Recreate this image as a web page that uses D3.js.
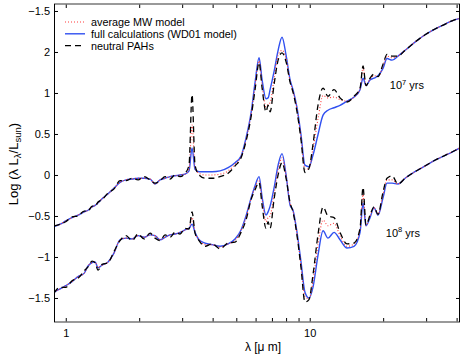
<!DOCTYPE html>
<html><head><meta charset="utf-8">
<script src="https://cdn.jsdelivr.net/npm/d3@7"></script>
<style>
html,body{margin:0;padding:0;background:#fff;}
svg{display:block;font-family:"Liberation Sans",Arial,Helvetica,sans-serif;}
</style></head>
<body>
<svg id="chart" width="463" height="356"></svg>
<script>
// wavelength grid (micron)
const lam = [0.895,0.948,1.0,1.061,1.123,1.189,1.234,1.282,1.319,1.356,
 1.409,1.491,1.578,1.669,1.767,1.870,1.979,2.094,2.216,2.323,
 2.435,2.553,2.676,2.805,2.941,3.083,3.201,3.293,3.388,3.519,
 3.723,3.977,4.29,4.63,4.94,5.23,5.48,5.75,5.97,6.20,
 6.38,6.62,6.75,6.88,7.14,7.42,7.70,8.00,8.31,8.54,
 8.87,9.21,9.56,9.93,10.31,10.81,11.34,11.88,12.58,13.31,
 14.22,15.19,16.08,16.54,17.01,17.67,18.34,19.05,19.97,20.74,
 21.75,23.0,24.6,27.0,29.7,32.6,35.9,38.3,41.3];

// 10^7 yrs
const full7 = [-0.63,-0.60,-0.56,-0.52,-0.49,-0.45,-0.43,-0.39,-0.37,-0.34,
 -0.29,-0.23,-0.16,-0.09,-0.06,-0.05,-0.04,-0.04,-0.05,-0.11,
 -0.06,-0.04,-0.02,-0.01,0.00,0.01,0.05,0.33,0.07,0.04,
 0.04,0.04,0.05,0.09,0.15,0.23,0.45,0.76,1.13,1.43,
 1.16,0.93,0.94,1.04,1.26,1.52,1.68,1.46,1.16,1.04,
 0.82,0.49,0.12,0.10,0.24,0.49,0.73,0.79,0.82,0.85,
 0.90,0.95,1.04,1.18,1.09,1.16,1.18,1.21,1.30,1.42,
 1.40,1.45,1.52,1.62,1.71,1.78,1.84,1.88,1.91];
const mw7 = [-0.63,-0.60,-0.56,-0.52,-0.49,-0.45,-0.43,-0.39,-0.37,-0.34,
 -0.29,-0.23,-0.16,-0.09,-0.06,-0.05,-0.04,-0.04,-0.05,-0.11,
 -0.06,-0.04,-0.02,-0.01,0.00,0.01,0.07,0.61,0.09,0.02,
 0.00,0.00,0.01,0.05,0.13,0.22,0.43,0.74,1.09,1.39,
 1.10,0.83,0.86,0.88,1.17,1.46,1.52,1.42,1.14,1.02,
 0.80,0.46,0.07,0.08,0.32,0.68,0.97,0.94,0.95,0.92,
 0.90,0.95,1.05,1.31,1.09,1.17,1.21,1.20,1.33,1.45,
 1.43,1.45,1.52,1.62,1.71,1.78,1.84,1.88,1.91];
const neutral7 = [-0.62,-0.60,-0.57,-0.51,-0.50,-0.44,-0.44,-0.38,-0.38,-0.33,
 -0.30,-0.22,-0.17,-0.07,-0.07,-0.04,-0.06,-0.02,-0.06,-0.10,
 -0.07,-0.02,-0.05,0.00,-0.02,0.02,0.12,0.98,0.12,0.00,
 -0.04,-0.04,-0.02,0.02,0.11,0.21,0.41,0.71,1.04,1.37,
 1.06,0.77,0.85,0.77,1.10,1.40,1.49,1.38,1.13,1.01,
 0.77,0.43,0.03,0.08,0.37,0.85,1.06,0.96,1.04,0.94,
 0.89,0.96,1.06,1.33,1.09,1.18,1.23,1.20,1.35,1.47,
 1.45,1.45,1.52,1.62,1.71,1.78,1.84,1.88,1.91];

// 10^8 yrs
const full8 = [-1.43,-1.39,-1.35,-1.30,-1.24,-1.20,-1.11,-1.07,-1.06,-1.13,
 -1.10,-1.06,-0.95,-0.79,-0.77,-0.78,-0.74,-0.76,-0.73,-0.74,
 -0.79,-0.76,-0.73,-0.72,-0.70,-0.67,-0.65,-0.60,-0.70,-0.79,
 -0.83,-0.85,-0.87,-0.84,-0.78,-0.67,-0.50,-0.28,-0.13,-0.02,
 -0.27,-0.49,-0.45,-0.38,-0.16,0.12,0.26,0.00,-0.37,-0.43,
 -0.70,-1.06,-1.43,-1.50,-1.37,-0.98,-0.68,-0.77,-0.70,-0.79,
 -0.89,-0.87,-0.70,-0.34,-0.62,-0.52,-0.40,-0.49,-0.28,-0.10,
 -0.10,-0.11,-0.04,0.04,0.11,0.18,0.24,0.28,0.33];
const mw8 = [-1.43,-1.39,-1.35,-1.30,-1.24,-1.20,-1.11,-1.07,-1.06,-1.13,
 -1.10,-1.06,-0.95,-0.79,-0.77,-0.78,-0.74,-0.76,-0.73,-0.74,
 -0.79,-0.76,-0.73,-0.72,-0.70,-0.67,-0.65,-0.52,-0.70,-0.79,
 -0.85,-0.85,-0.88,-0.84,-0.80,-0.68,-0.52,-0.29,-0.15,-0.06,
 -0.30,-0.57,-0.52,-0.50,-0.23,0.06,0.21,-0.01,-0.35,-0.44,
 -0.72,-1.10,-1.48,-1.51,-1.30,-0.85,-0.55,-0.62,-0.59,-0.74,
 -0.87,-0.84,-0.67,-0.24,-0.62,-0.50,-0.40,-0.48,-0.24,-0.06,
 -0.06,-0.11,-0.04,0.04,0.11,0.18,0.24,0.28,0.33];
const neutral8 = [-1.44,-1.37,-1.37,-1.29,-1.26,-1.17,-1.12,-1.05,-1.07,-1.16,
 -1.09,-1.07,-0.93,-0.80,-0.74,-0.80,-0.72,-0.78,-0.71,-0.77,
 -0.80,-0.73,-0.76,-0.70,-0.72,-0.65,-0.66,-0.45,-0.71,-0.80,
 -0.87,-0.84,-0.90,-0.83,-0.82,-0.70,-0.55,-0.30,-0.18,-0.09,
 -0.37,-0.65,-0.57,-0.65,-0.30,0.00,0.15,-0.04,-0.34,-0.45,
 -0.74,-1.13,-1.55,-1.52,-1.22,-0.73,-0.39,-0.50,-0.52,-0.70,
 -0.84,-0.83,-0.65,-0.15,-0.61,-0.49,-0.39,-0.48,-0.21,-0.04,
 -0.01,-0.11,-0.04,0.04,0.11,0.18,0.24,0.28,0.33];

// ticks (labels reproduced exactly as printed in the original)
const yTickValues = [2, 1.5, 1, 0.5, 0, -0.5, -1, -1.5];
const yTickLabels = ["\u22121.5", "2", "1", "0.5", "0", "\u22120.5", "\u22121", "\u22121.5"];
const xTickValues = [1,2,3,4,5,6,7,8,9,10,20,30,40];
const xTickLabels = {1: "1", 10: "10"};

const legendLabels = ["average MW model", "full calculations (WD01 model)", "neutral PAHs"];
const ageLabels = ["7", "8"];
const ageLabelPos = [[21.3, 1.043], [20.5, -0.756]];

const margin = {left: 54, top: 4, right: 3, bottom: 34};
const W = 463, H = 356;
const iw = W - margin.left - margin.right, ih = H - margin.top - margin.bottom;

const svg = d3.select("#chart");
const g = svg.append("g").attr("transform", `translate(${margin.left},${margin.top})`);

const x = d3.scaleLog().domain([0.895, 41.3]).range([0, iw]);
const y = d3.scaleLinear().domain([-1.793, 2.085]).range([ih, 0]);

const styles = [
  {color: "#3050f0", width: 1.4, dash: null},
  {color: "#ff3b3b", width: 1.1, dash: "1,2"},
  {color: "#000000", width: 1.3, dash: "6,4"}
];

const line = d3.line().x(d => x(d[0])).y(d => y(d[1])).curve(d3.curveMonotoneX);
g.append("clipPath").attr("id", "clip").append("rect").attr("width", iw).attr("height", ih);
const plot = g.append("g").attr("clip-path", "url(#clip)");

const sets = [[full7, mw7, neutral7], [full8, mw8, neutral8]];
[0,1,2].forEach(si => {
  sets.forEach(set => {
    const pts = lam.map((l, i) => [l, set[si][i]]);
    plot.append("path").attr("d", line(pts)).attr("fill", "none")
      .attr("stroke", styles[si].color).attr("stroke-width", styles[si].width)
      .attr("stroke-dasharray", styles[si].dash)
      .attr("stroke-linejoin", "round");
  });
});

// axes
const fs = "11px";
const yAxis = d3.axisLeft(y).tickValues(yTickValues).tickFormat((d, i) => yTickLabels[i])
  .tickSizeInner(-4).tickSizeOuter(0).tickPadding(4);
const ya = g.append("g").call(yAxis);
ya.select(".domain").remove();
ya.selectAll("text").style("font-size", fs).attr("fill", "#000");
const yAxisR = d3.axisRight(y).tickValues(yTickValues).tickFormat("").tickSizeInner(-4).tickSizeOuter(0);
const yr = g.append("g").attr("transform", `translate(${iw},0)`).call(yAxisR);
yr.select(".domain").remove();

const xAxis = d3.axisBottom(x).tickValues(xTickValues).tickFormat(d => xTickLabels[d] || "")
  .tickSizeInner(-4).tickSizeOuter(0).tickPadding(7);
const xa = g.append("g").attr("transform", `translate(0,${ih})`).call(xAxis);
xa.select(".domain").remove();
xa.selectAll("text").style("font-size", fs).attr("fill", "#000");
const xAxisT = d3.axisTop(x).tickValues(xTickValues).tickFormat("").tickSizeInner(-4).tickSizeOuter(0);
const xt = g.append("g").call(xAxisT);
xt.select(".domain").remove();
g.selectAll(".tick line").attr("stroke", "#000");

// frame
g.append("line").attr("x1", 0).attr("x2", iw).attr("y1", ih).attr("y2", ih).attr("stroke", "#777").attr("stroke-width", 1.6);
g.append("line").attr("x1", 0).attr("x2", iw).attr("y1", 0).attr("y2", 0).attr("stroke", "#777").attr("stroke-width", 1.6);
g.append("line").attr("x1", 0.5).attr("x2", 0.5).attr("y1", 0).attr("y2", ih).attr("stroke", "#000").attr("stroke-width", 1);
g.append("line").attr("x1", iw - 0.5).attr("x2", iw - 0.5).attr("y1", 0).attr("y2", ih).attr("stroke", "#000").attr("stroke-width", 1);

// legend
const leg = g.append("g").attr("transform", "translate(11,18)");
[1,0,2].forEach((si, k) => {
  const yy = k * 11.8;
  leg.append("line").attr("x1", 0).attr("x2", 20).attr("y1", yy).attr("y2", yy)
    .attr("stroke", styles[si].color).attr("stroke-width", styles[si].width)
    .attr("stroke-dasharray", styles[si].dash);
  leg.append("text").attr("x", 26).attr("y", yy + 4).style("font-size", "10.8px").text(legendLabels[k]);
});

// age labels
ageLabels.forEach((a, i) => {
  const t = g.append("text").attr("x", x(ageLabelPos[i][0])).attr("y", y(ageLabelPos[i][1])).style("font-size", "11px");
  t.append("tspan").text("10");
  t.append("tspan").attr("dy", -4.5).style("font-size", "7.5px").text(a);
  t.append("tspan").attr("dy", 4.5).text(" yrs");
});

// axis titles
svg.append("text").attr("x", 263).attr("y", 351).attr("text-anchor", "middle").style("font-size", "12px").text("\u03bb [\u03bc m]");
const yt = svg.append("text").attr("transform", "translate(18,164) rotate(-90)").attr("text-anchor", "middle").style("font-size", "13px");
yt.append("tspan").text("Log (\u03bb L");
yt.append("tspan").attr("dy", 3).style("font-size", "9.5px").text("\u03bb");
yt.append("tspan").attr("dy", -3).text("/L");
yt.append("tspan").attr("dy", 3).style("font-size", "9.5px").text("sun");
yt.append("tspan").attr("dy", -3).text(")");
</script>
</body></html>
